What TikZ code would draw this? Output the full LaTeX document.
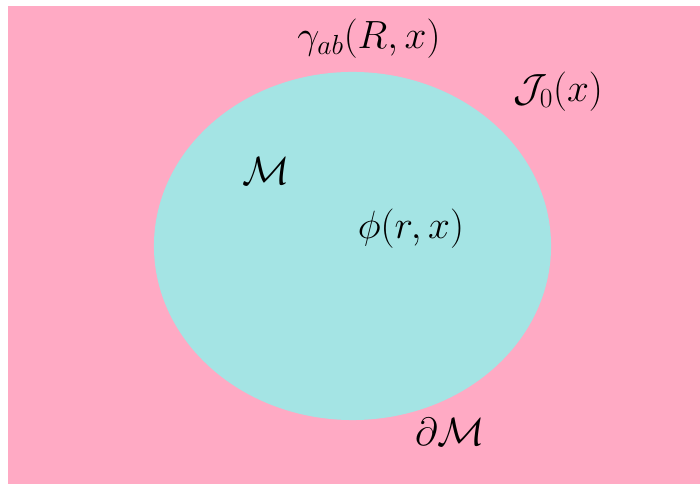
\RequirePackage{fix-cm}
\documentclass[tikz,border=0pt]{standalone}
\usepackage{amsmath,amssymb}
\usepackage{xcolor}
\usepackage{tikz}
\usetikzlibrary{positioning}
\definecolor{rose}{RGB}{255,170,196}
\definecolor{lagon}{RGB}{164,228,228}
\tikzset{lbl/.style={inner sep=0pt,font=\fontsize{28}{33}\selectfont}}

\begin{document}
\begin{tikzpicture}[x=0.025cm,y=-0.025cm]
    \useasboundingbox (0,0) rectangle (700,484);
    \fill[white] (0,0) rectangle (700,484);
    \fill[rose] (8,6) rectangle (700,484);
    \fill[lagon] (352.5,246) ellipse [x radius=4.9625cm, y radius=4.35cm];
    \node[lbl] (gamma) at (369,39) {$\gamma_{ab}(R,x)$};
    \node[lbl] (courant) at (558,92) {$\mathcal{J}_0(x)$};
    \node[lbl] (varie) at (266,171) {$\mathcal{M}$};
    \node[lbl] (champ) at (411,229) {$\phi(r,x)$};
    \node[lbl] (bord) at (450,432) {$\partial\mathcal{M}$};
  \end{tikzpicture}
\end{document}
